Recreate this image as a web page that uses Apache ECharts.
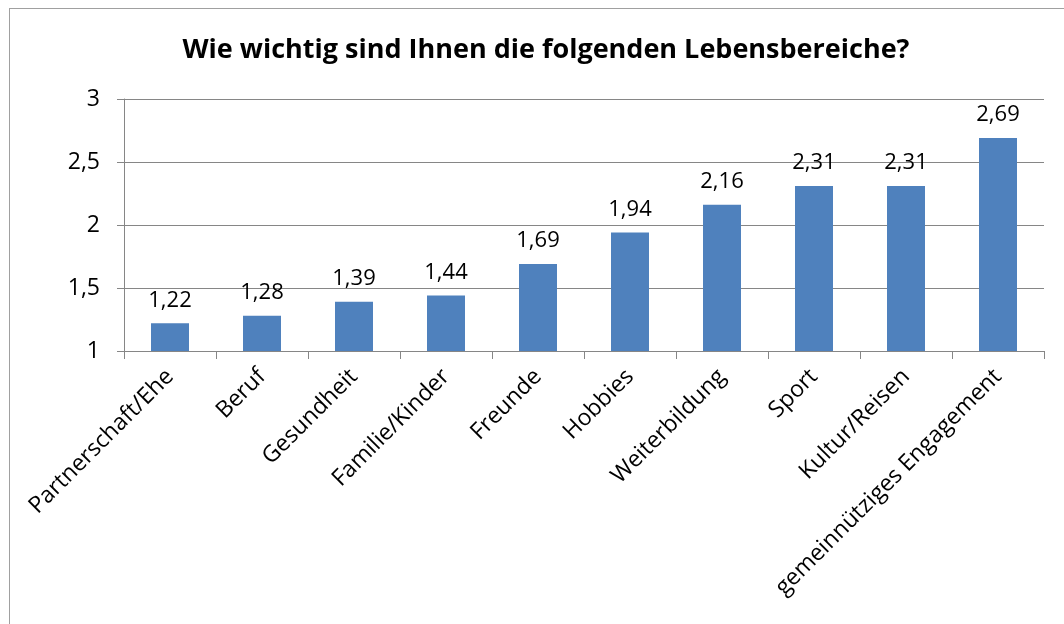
<!DOCTYPE html>
<html>
<head>
<meta charset="utf-8">
<script src="https://cdn.jsdelivr.net/npm/echarts@6/dist/echarts.min.js"></script>
<style>
  html, body { margin: 0; padding: 0; background: #fff; }
  #frame { position: absolute; left: 9px; top: 8px; width: 1100px; height: 700px; border: 1px solid #a0a0a0; }
  #chart { position: absolute; left: 0; top: 0; width: 1064px; height: 624px; }
</style>
</head>
<body>
<div id="frame"></div>
<div id="chart"></div>
<script>
const categories = ['Partnerschaft/Ehe', 'Beruf', 'Gesundheit', 'Familie/Kinder', 'Freunde', 'Hobbies', 'Weiterbildung', 'Sport', 'Kultur/Reisen', 'gemeinnütziges Engagement']
const values = [1.22, 1.28, 1.39, 1.44, 1.69, 1.94, 2.16, 2.31, 2.31, 2.69]
const yTicks = [1, 1.5, 2, 2.5, 3]

const fontFamily = 'Open Sans, Lato, sans-serif'
const fmt = (v) => String(v).replace('.', ',')

const chart = echarts.init(document.getElementById('chart'))
chart.setOption({
  animation: false,
  title: {
    text: 'Wie wichtig sind Ihnen die folgenden Lebensbereiche?',
    left: 541,
    textAlign: 'center',
    top: 32,
    textStyle: { fontFamily: fontFamily, fontSize: 27, fontWeight: 'bold', color: '#000' }
  },
  grid: { left: 124, right: 20, top: 99, bottom: 273 },
  xAxis: {
    type: 'category',
    data: categories,
    axisLine: { lineStyle: { color: '#868686', width: 1 } },
    axisTick: { show: true, length: 8, lineStyle: { color: '#868686' } },
    axisLabel: { rotate: 45, fontFamily: fontFamily, fontSize: 23, color: '#000', margin: 22, interval: 0 }
  },
  yAxis: {
    type: 'value',
    min: yTicks[0],
    max: yTicks[yTicks.length - 1],
    interval: 0.5,
    axisLine: { show: true, lineStyle: { color: '#868686', width: 1 } },
    axisTick: { show: true, length: 7, lineStyle: { color: '#868686' } },
    splitLine: { lineStyle: { color: '#868686', width: 1 } },
    axisLabel: { fontFamily: fontFamily, fontSize: 23, color: '#000', margin: 24, formatter: fmt }
  },
  series: [
    {
      type: 'bar',
      data: values,
      barWidth: 38,
      itemStyle: { color: '#4F81BD' },
      label: {
        show: true,
        position: 'top',
        distance: 12,
        fontFamily: fontFamily,
        fontSize: 22,
        color: '#000',
        formatter: (p) => fmt(p.value)
      }
    }
  ]
})
</script>
</body>
</html>
